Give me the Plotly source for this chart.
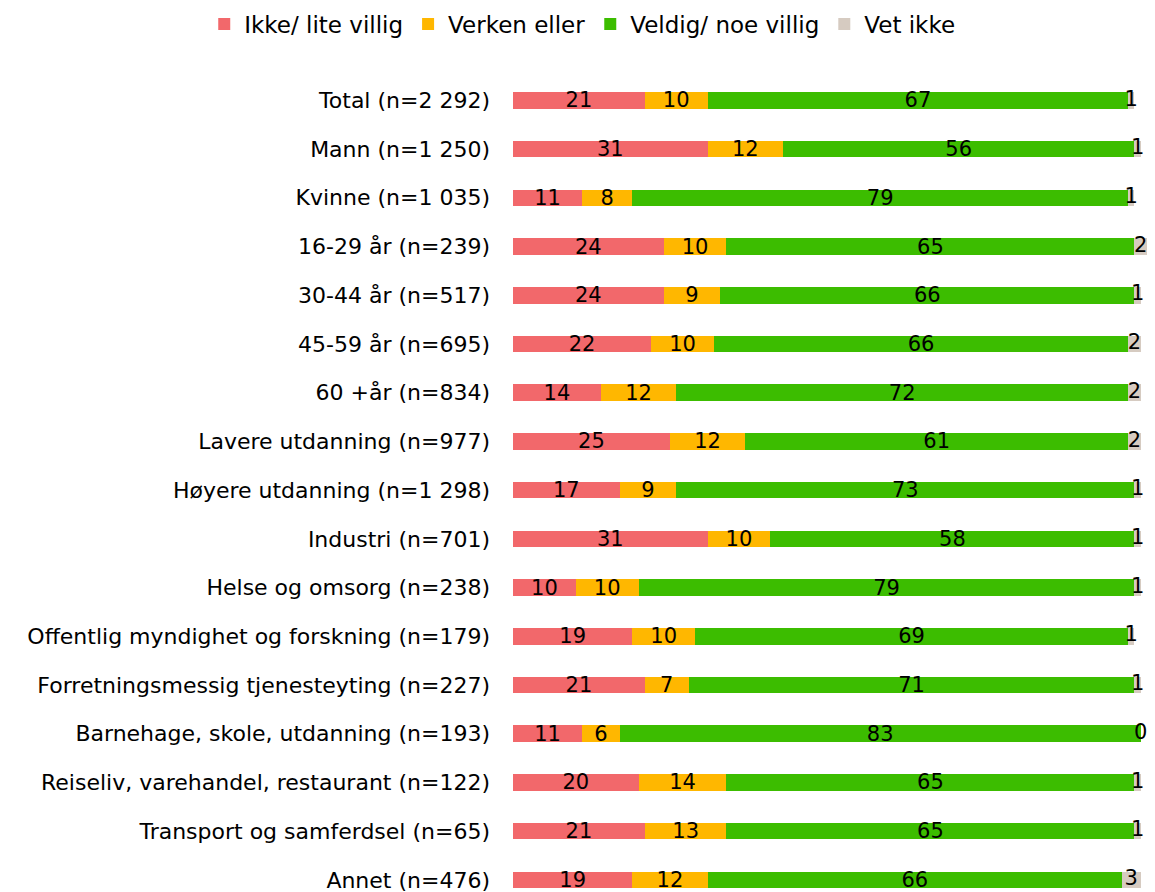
import plotly.graph_objects as go

categories = [
    "Total (n=2 292)", "Mann (n=1 250)", "Kvinne (n=1 035)", "16-29 år (n=239)",
    "30-44 år (n=517)", "45-59 år (n=695)", "60 +år (n=834)", "Lavere utdanning (n=977)",
    "Høyere utdanning (n=1 298)", "Industri (n=701)", "Helse og omsorg (n=238)",
    "Offentlig myndighet og forskning (n=179)", "Forretningsmessig tjenesteyting (n=227)",
    "Barnehage, skole, utdanning (n=193)", "Reiseliv, varehandel, restaurant (n=122)",
    "Transport og samferdsel (n=65)", "Annet (n=476)",
]
ikke = [21, 31, 11, 24, 24, 22, 14, 25, 17, 31, 10, 19, 21, 11, 20, 21, 19]
verken = [10, 12, 8, 10, 9, 10, 12, 12, 9, 10, 10, 10, 7, 6, 14, 13, 12]
veldig = [67, 56, 79, 65, 66, 66, 72, 61, 73, 58, 79, 69, 71, 83, 65, 65, 66]
vet = [1, 1, 1, 2, 1, 2, 2, 2, 1, 1, 1, 1, 1, 0, 1, 1, 3]

series = [
    ("Ikke/ lite villig", ikke, "#F2686B"),
    ("Verken eller", verken, "#FFB700"),
    ("Veldig/ noe villig", veldig, "#3CBD00"),
    ("Vet ikke", vet, "#D6CBC1"),
]

FONT = "DejaVu Sans, sans-serif"
FS = 22
FS_LEG = 23
FS_DATA = 21
ypos = list(range(len(categories)))

fig = go.Figure()
for name, vals, color in series[:3]:
    fig.add_trace(go.Bar(
        name=name, y=ypos, x=vals, orientation="h", width=0.34,
        marker=dict(color=color, line=dict(width=0)),
        text=[str(v) for v in vals], textposition="inside",
        insidetextanchor="middle", constraintext="none", textangle=0,
        textfont=dict(family=FONT, size=FS_DATA, color="#000000"),
    ))

name, vals, color = series[3]
fig.add_trace(go.Bar(
    name=name, y=ypos, x=vals, orientation="h", width=0.34,
    marker=dict(color=color, line=dict(width=0)), hoverinfo="skip",
))
base = [a + b + c for a, b, c in zip(ikke, verken, veldig)]
fig.add_trace(go.Scatter(
    x=[b + v / 2 for b, v in zip(base, vals)], y=ypos, mode="text",
    text=[str(v) for v in vals], textposition="middle center",
    textfont=dict(family=FONT, size=FS_DATA, color="#000000"),
    showlegend=False, cliponaxis=False, hoverinfo="skip",
))

fig.update_layout(
    width=1147, height=884, barmode="stack",
    margin=dict(l=505, r=8, t=68, b=0, autoexpand=False),
    plot_bgcolor="white", paper_bgcolor="white",
    font=dict(family=FONT, size=FS, color="#000000"),
    legend=dict(orientation="h", xref="paper", yref="paper",
                x=-0.487, xanchor="left", y=1.0637, yanchor="middle",
                font=dict(family=FONT, size=FS_LEG, color="#000000"),
                itemclick=False, traceorder="normal"),
    xaxis=dict(range=[0, 101], visible=False, showgrid=False, zeroline=False),
    yaxis=dict(range=[16.25, -0.5], tickvals=ypos, ticktext=categories,
               showgrid=False, zeroline=False, showline=False, ticks="",
               ticklabeloverflow="allow",
               ticklabelstandoff=22, tickfont=dict(family=FONT, size=FS, color="#000000")),
)

fig.write_html("out.html")
